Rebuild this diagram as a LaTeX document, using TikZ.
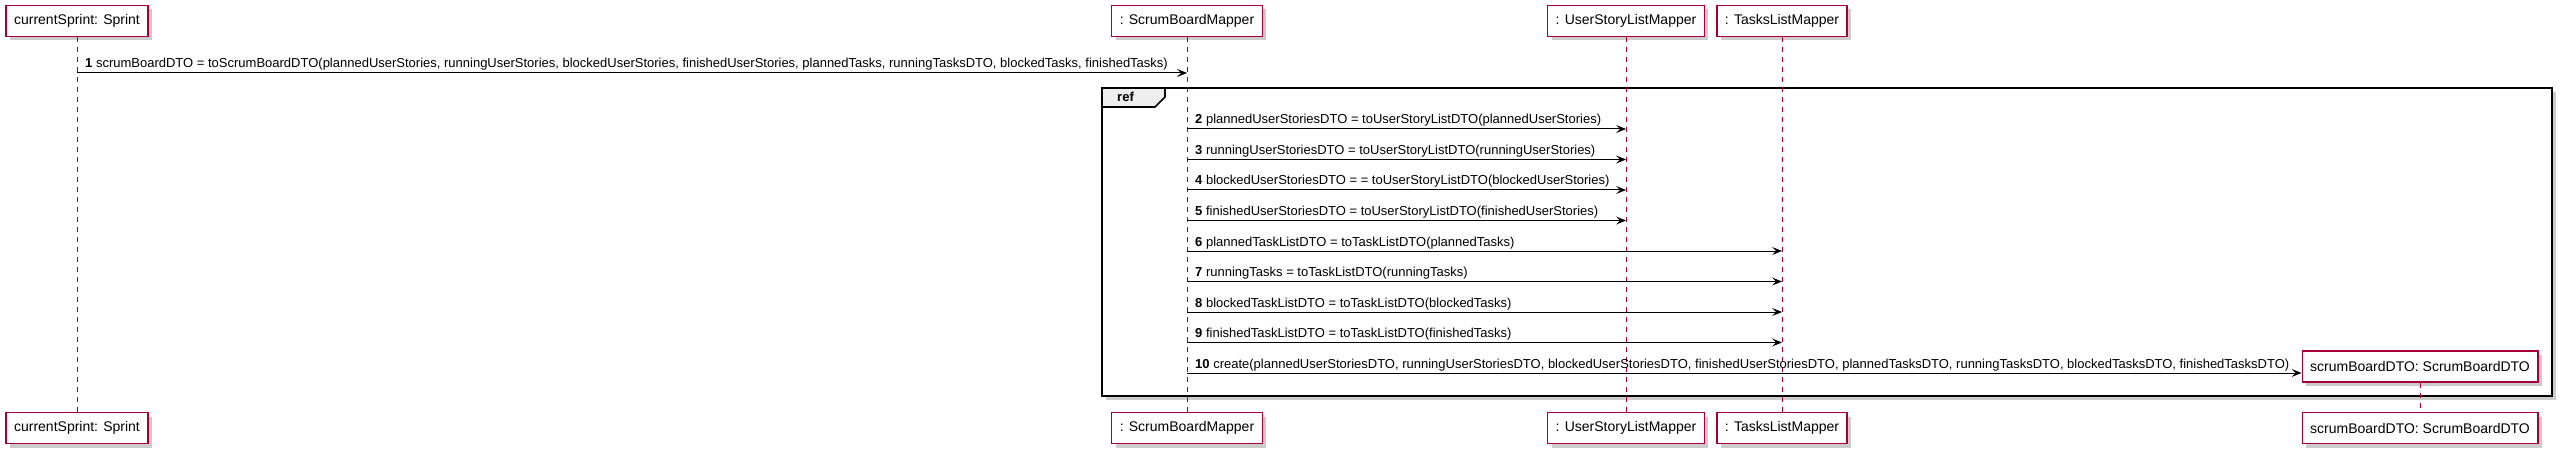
\documentclass[tikz,border=0pt]{standalone}
\usepackage{fontspec}
\setmainfont{Liberation Sans}
\usetikzlibrary{arrows.meta,shadows}
\definecolor{Crimson}{HTML}{A80036}
\definecolor{TabGray}{HTML}{EEEEEE}

\begin{document}
\begin{tikzpicture}[x=1pt,y=-1pt,
    part/.style={draw=Crimson,line width=1.3pt,fill=white,minimum height=31pt,
      inner xsep=8pt,inner ysep=0pt,font=\fontsize{14}{16}\selectfont,
      drop shadow={shadow xshift=4pt,shadow yshift=-4pt,fill=black!40,opacity=0.5}},
    frame/.style={draw=black,line width=1.6pt,fill=white,outer sep=0pt,
      drop shadow={shadow xshift=4pt,shadow yshift=-4pt,fill=black!40,opacity=0.5}},
    life/.style={Crimson,line width=1pt,dash pattern=on 5pt off 5pt},
    arr/.style={-{Stealth[length=10pt,width=8pt,inset=4pt]},line width=1pt},
    lbl/.style={anchor=base west,inner sep=0pt,font=\fontsize{13}{15}\selectfont}
  ]
    \useasboundingbox (0,0) rectangle (2564,457);
    % ref frame first, so lifelines run over it
    \node[frame,minimum width=1450pt,minimum height=308pt] (ref) at (1827,242) {};
    % participants and lifelines
    \foreach \n/\x/\t in {sp/77/currentSprint: Sprint,sbm/1187/: ScrumBoardMapper,
        us/1626/: UserStoryListMapper,tl/1782/: TasksListMapper}{
      \node[part] (\n top) at (\x,21) {\t};
      \node[part] (\n bot) at (\x,428) {\t};
      \draw[life] (\n top) -- (\n bot);
    }
    \node[part] (dto) at (2420,366.5) {scrumBoardDTO: ScrumBoardDTO};
    \node[part] (dtobot) at (2420,428) {scrumBoardDTO: ScrumBoardDTO};
    \draw[life] (dto) -- (dtobot);
    % messages
    \draw[arr] (sptop|-0,73) -- (sbmtop|-0,73);
    \node[lbl] (t1) at (85,68) {\textbf{1} scrumBoardDTO = toScrumBoardDTO(plannedUserStories, runningUserStories, blockedUserStories, finishedUserStories, plannedTasks, runningTasksDTO, blockedTasks, finishedTasks)};
    \foreach \i/\y/\to/\t in {2/129/us/plannedUserStoriesDTO = toUserStoryListDTO(plannedUserStories),
        3/159.5/us/runningUserStoriesDTO = toUserStoryListDTO(runningUserStories),
        4/190/us/blockedUserStoriesDTO = = toUserStoryListDTO(blockedUserStories),
        5/220.5/us/finishedUserStoriesDTO = toUserStoryListDTO(finishedUserStories),
        6/251/tl/plannedTaskListDTO = toTaskListDTO(plannedTasks),
        7/281.5/tl/runningTasks = toTaskListDTO(runningTasks),
        8/312/tl/blockedTaskListDTO = toTaskListDTO(blockedTasks),
        9/342.5/tl/finishedTaskListDTO = toTaskListDTO(finishedTasks)}{
      \draw[arr] (sbmtop|-0,\y) -- (\to top|-0,\y);
      \node[lbl] (t\i) at (1195,\y-5) {\textbf{\i} \t};
    }
    \draw[arr] (sbmtop|-0,373) -- (dto.west|-0,373);
    \node[lbl] (t10) at (1195,368) {\textbf{10} create(plannedUserStoriesDTO, runningUserStoriesDTO, blockedUserStoriesDTO, finishedUserStoriesDTO, plannedTasksDTO, runningTasksDTO, blockedTasksDTO, finishedTasksDTO)};
    % ref tab
    \draw[line width=1.6pt,fill=TabGray] (ref.north west) -- ++(63,0) -- ++(0,9)
      -- ++(-10,10) -- ++(-53,0) -- cycle;
    \node[lbl,font=\bfseries\fontsize{13}{15}\selectfont] (reftxt) at (1117,102) {ref};
  \end{tikzpicture}
\end{document}
